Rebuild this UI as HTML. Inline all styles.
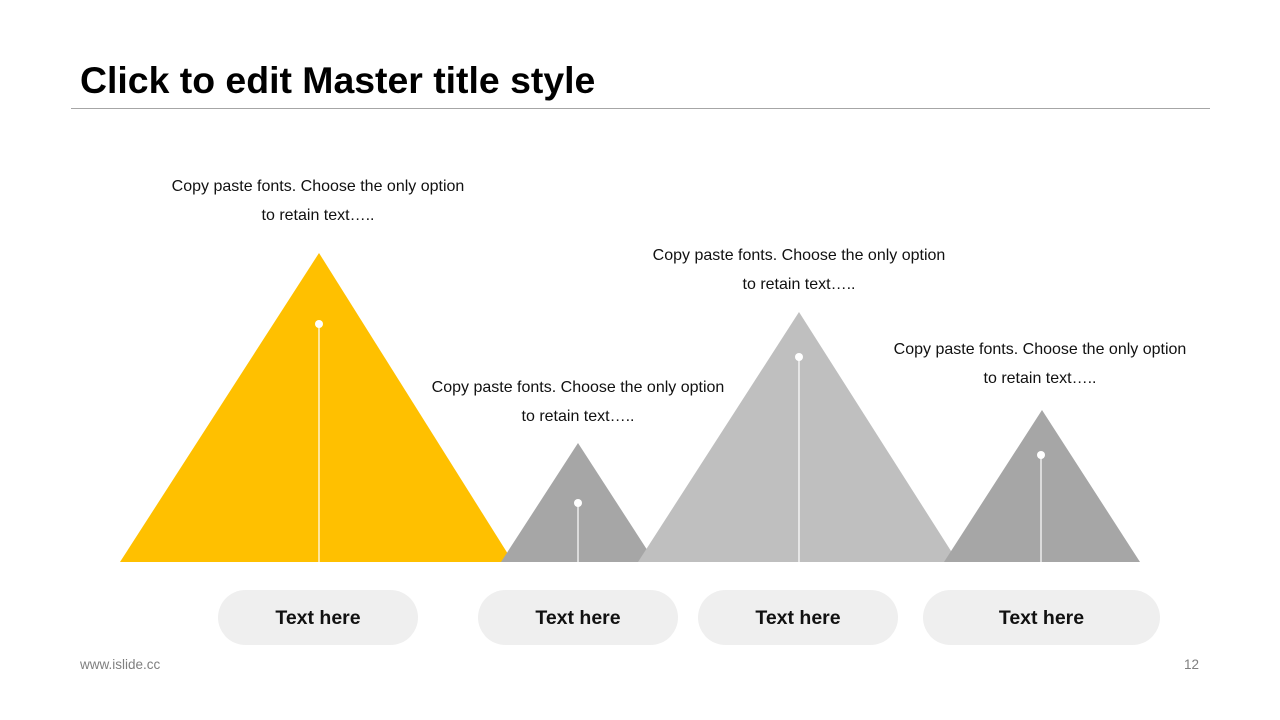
<!DOCTYPE html>
<html><head><meta charset="utf-8"><style>
body{margin:0;width:1280px;height:720px;background:#fff;font-family:"Liberation Sans",sans-serif;position:relative;overflow:hidden}
.t{position:absolute;font-size:16px;color:#111;text-align:center;line-height:29px;width:340px}
.p{position:absolute;top:590px;height:55px;border-radius:28px;background:#efefef;font-weight:bold;font-size:19.5px;line-height:56px;text-align:center;color:#111}
</style></head><body>
<div style="position:absolute;left:80px;top:59px;font-size:37.4px;font-weight:bold;color:#000">Click to edit Master title style</div>
<div style="position:absolute;left:71px;top:108px;width:1139px;height:1px;background:#a6a6a6"></div>
<svg style="position:absolute;left:0;top:0" width="1280" height="720">
<polygon points="120,562 319,253 513,562" fill="#ffc000"/>
<polygon points="501,562 578,443 655,562" fill="#a6a6a6"/>
<polygon points="638,562 799,312 958,562" fill="#bfbfbf"/>
<polygon points="944,562 1042,410 1140,562" fill="#a6a6a6"/>
<g stroke="#fff" stroke-width="1.2"><line x1="319" y1="324" x2="319" y2="562"/><line x1="578" y1="503" x2="578" y2="562"/><line x1="799" y1="357" x2="799" y2="562"/><line x1="1041" y1="455" x2="1041" y2="562"/></g>
<g fill="#fff"><circle cx="319" cy="324" r="4"/><circle cx="578" cy="503" r="4"/><circle cx="799" cy="357" r="4"/><circle cx="1041" cy="455" r="4"/></g>
</svg>
<div class="t" style="left:148px;top:172px">Copy paste fonts. Choose the only option<br>to retain text…..</div>
<div class="t" style="left:408px;top:373px">Copy paste fonts. Choose the only option<br>to retain text…..</div>
<div class="t" style="left:629px;top:241px">Copy paste fonts. Choose the only option<br>to retain text…..</div>
<div class="t" style="left:870px;top:335px">Copy paste fonts. Choose the only option<br>to retain text…..</div>
<div class="p" style="left:218px;width:200px">Text here</div>
<div class="p" style="left:478px;width:200px">Text here</div>
<div class="p" style="left:698px;width:200px">Text here</div>
<div class="p" style="left:923px;width:237px">Text here</div>
<div style="position:absolute;left:80px;top:657px;font-size:13.5px;color:#7f7f7f">www.islide.cc</div>
<div style="position:absolute;left:1184px;top:657px;font-size:13.5px;color:#7f7f7f">12</div>
</body></html>
